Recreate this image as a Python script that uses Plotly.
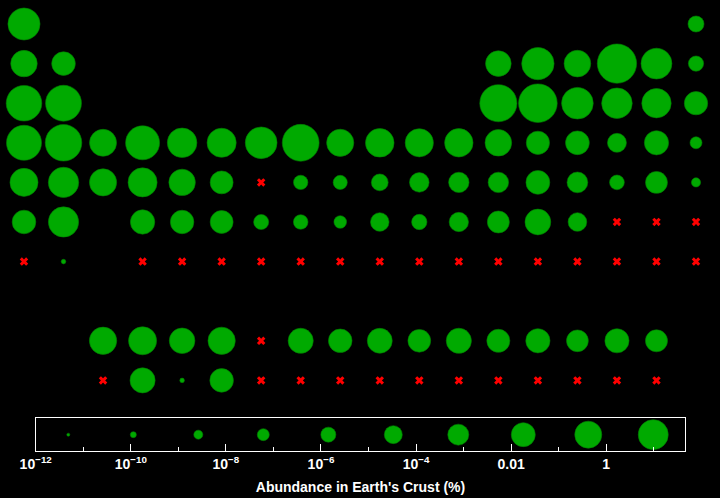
import math
import plotly.graph_objects as go

# Element symbols by atomic number 1..118
SYMBOLS = ("H He Li Be B C N O F Ne Na Mg Al Si P S Cl Ar K Ca Sc Ti V Cr Mn Fe Co Ni Cu Zn "
           "Ga Ge As Se Br Kr Rb Sr Y Zr Nb Mo Tc Ru Rh Pd Ag Cd In Sn Sb Te I Xe Cs Ba "
           "La Ce Pr Nd Pm Sm Eu Gd Tb Dy Ho Er Tm Yb Lu Hf Ta W Re Os Ir Pt Au Hg Tl Pb Bi "
           "Po At Rn Fr Ra Ac Th Pa U Np Pu Am Cm Bk Cf Es Fm Md No Lr Rf Db Sg Bh Hs Mt Ds "
           "Rg Cn Nh Fl Mc Lv Ts Og").split()

# Abundance in Earth's crust (%), None = no data (drawn as red x)
ABUNDANCE_P1_3 = [0.15, 5.5e-7, 0.0017, 1.9e-4, 8.7e-4, 0.18, 0.002, 46, 0.054, 3e-7,
                  2.3, 2.9, 8.1, 27, 0.1, 0.042, 0.017, 1.5e-4]
ABUNDANCE_P4 = [1.5, 5.0, 0.0026, 0.66, 0.019, 0.014, 0.11, 6.3, 0.003, 0.009, 0.0068, 0.0079,
                0.0019, 1.4e-4, 2.1e-4, 5e-6, 3e-4, 2.5e-8]
ABUNDANCE_P5 = [0.006, 0.036, 0.0029, 0.013, 0.0017, 1.1e-4, None, 1.5e-7, 1.3e-7, 1e-6,
                8e-6, 1.5e-5, 1.6e-5, 2.2e-4, 2e-5, 2e-7, 4.9e-5, 3e-9]
ABUNDANCE_P6 = [1.9e-4, 0.034,
                0.0034, 0.006, 8.7e-4, 0.0033, None, 6e-4, 1.8e-4, 5.2e-4, 9.4e-5, 6.2e-4,
                1.2e-4, 3e-4, 4.5e-5, 2.8e-4, 5.6e-5,
                3.3e-4, 1.7e-4, 1.1e-4, 2.6e-7, 1.8e-7, 4e-8, 3.7e-6, 3.1e-7, 6.7e-6, 5.3e-5,
                0.001, 4e-6, None, None, None]
ABUNDANCE_P7 = [None, 9.9e-11,
                None, 6e-4, 9.9e-11, 1.8e-4] + [None] * 11 + [None] * 15

ABUNDANCE = ABUNDANCE_P1_3 + ABUNDANCE_P4 + ABUNDANCE_P5 + ABUNDANCE_P6 + ABUNDANCE_P7

# Legend sample abundances (%)
LEGEND_VALUES = [4.85e-12, 1.13e-10, 2.63e-9, 6.12e-8, 1.43e-6, 3.32e-5, 7.73e-4, 0.018, 0.419, 9.75]

# Axis tick values / labels
MAJOR_TICKS = [1e-12, 1e-10, 1e-8, 1e-6, 1e-4, 0.01, 1]
MAJOR_LABELS = ["10<sup>\u221212</sup>", "10<sup>\u221210</sup>", "10<sup>\u22128</sup>",
                "10<sup>\u22126</sup>", "10<sup>\u22124</sup>", "0.01", "1"]
MINOR_TICKS = [1e-11, 1e-9, 1e-7, 1e-5, 1e-3, 0.1, 10]


def grid_pos(z):
    """Periodic table (group, display row) for atomic number z."""
    if z == 1:
        return 1, 1
    if z == 2:
        return 18, 1
    if z <= 10:
        return (z - 2 if z <= 4 else z + 8), 2
    if z <= 18:
        return (z - 10 if z <= 12 else z), 3
    if z <= 36:
        return z - 18, 4
    if z <= 54:
        return z - 36, 5
    if z <= 56:
        return z - 54, 6
    if z <= 71:
        return z - 54, 9
    if z <= 86:
        return z - 68, 6
    if z <= 88:
        return z - 86, 7
    if z <= 103:
        return z - 86, 10
    return z - 100, 7


def bubble_diam(pct):
    x = math.log10(pct) + 10
    return 4.6 + 3.1 * x - 0.0107 * x * x


GREEN = "rgb(0,170,0)"
EDGE = "rgb(0,125,0)"

px_, py_, ps_, pt_ = [], [], [], []
mx_, my_, mt_ = [], [], []
for i, (sym, val) in enumerate(zip(SYMBOLS, ABUNDANCE)):
    g, r = grid_pos(i + 1)
    if val is None:
        mx_.append(g); my_.append(r); mt_.append(sym)
    else:
        px_.append(g); py_.append(r); ps_.append(bubble_diam(val)); pt_.append(f"{sym}: {val:g}%")

fig = go.Figure()
fig.add_trace(go.Scatter(
    x=px_, y=py_, mode="markers", text=pt_, hoverinfo="text",
    marker=dict(size=ps_, sizemode="diameter", color=GREEN, opacity=1,
                line=dict(width=0.6, color=EDGE)),
    xaxis="x", yaxis="y"))
fig.add_trace(go.Scatter(
    x=mx_, y=my_, mode="markers", text=mt_, hoverinfo="text",
    marker=dict(symbol="x", size=7.5, color="#ff0000", opacity=1, line=dict(width=0)),
    xaxis="x", yaxis="y"))

lmin = math.log10(min(LEGEND_VALUES))
lmax = math.log10(max(LEGEND_VALUES))
leg_sizes = [3 + 27 * (math.log10(v) - lmin) / (lmax - lmin) for v in LEGEND_VALUES]
fig.add_trace(go.Scatter(
    x=LEGEND_VALUES, y=[0.5] * len(LEGEND_VALUES), mode="markers", hoverinfo="x",
    marker=dict(size=leg_sizes, sizemode="diameter", color=GREEN, opacity=1,
                line=dict(width=0.6, color=EDGE)),
    xaxis="x2", yaxis="y2"))

fig.update_layout(
    width=720, height=498, autosize=False,
    margin=dict(l=0, r=0, t=0, b=0, pad=0, autoexpand=False),
    paper_bgcolor="black", plot_bgcolor="black",
    showlegend=False,
    font=dict(family="Liberation Sans, Arial, sans-serif", color="white"),
    xaxis=dict(domain=[0, 1], range=[0.393, 18.607], visible=False, fixedrange=True,
               automargin=False),
    yaxis=dict(domain=[0, 1], range=[12.97, 0.394], visible=False, fixedrange=True,
               automargin=False),
    xaxis2=dict(
        type="log", domain=[0.0496, 0.9518], range=[-12, 1.663], anchor="y2",
        automargin=False, fixedrange=True,
        showline=True, linecolor="white", linewidth=1, mirror=True,
        showgrid=False, zeroline=False,
        tickmode="array", tickvals=MAJOR_TICKS, ticktext=MAJOR_LABELS,
        ticks="inside", ticklen=7, tickwidth=1, tickcolor="white",
        tickfont=dict(size=14, color="white", weight="bold"),
        minor=dict(tickmode="array", tickvals=MINOR_TICKS, ticks="inside",
                   ticklen=4, tickwidth=1, tickcolor="white", showgrid=False),
        title=dict(text="Abundance in Earth's Crust (%)", standoff=11,
                   font=dict(size=14, color="white", weight="bold")),
    ),
    yaxis2=dict(
        domain=[0.0944, 0.16], range=[0, 1], anchor="x2", automargin=False, fixedrange=True,
        showline=True, linecolor="white", linewidth=1, mirror=True,
        showgrid=False, zeroline=False, showticklabels=False, ticks="",
    ),
)

fig.write_html("out.html",
               config={"displayModeBar": False},
               post_script="document.body.style.margin='0';document.body.style.background='black';")
